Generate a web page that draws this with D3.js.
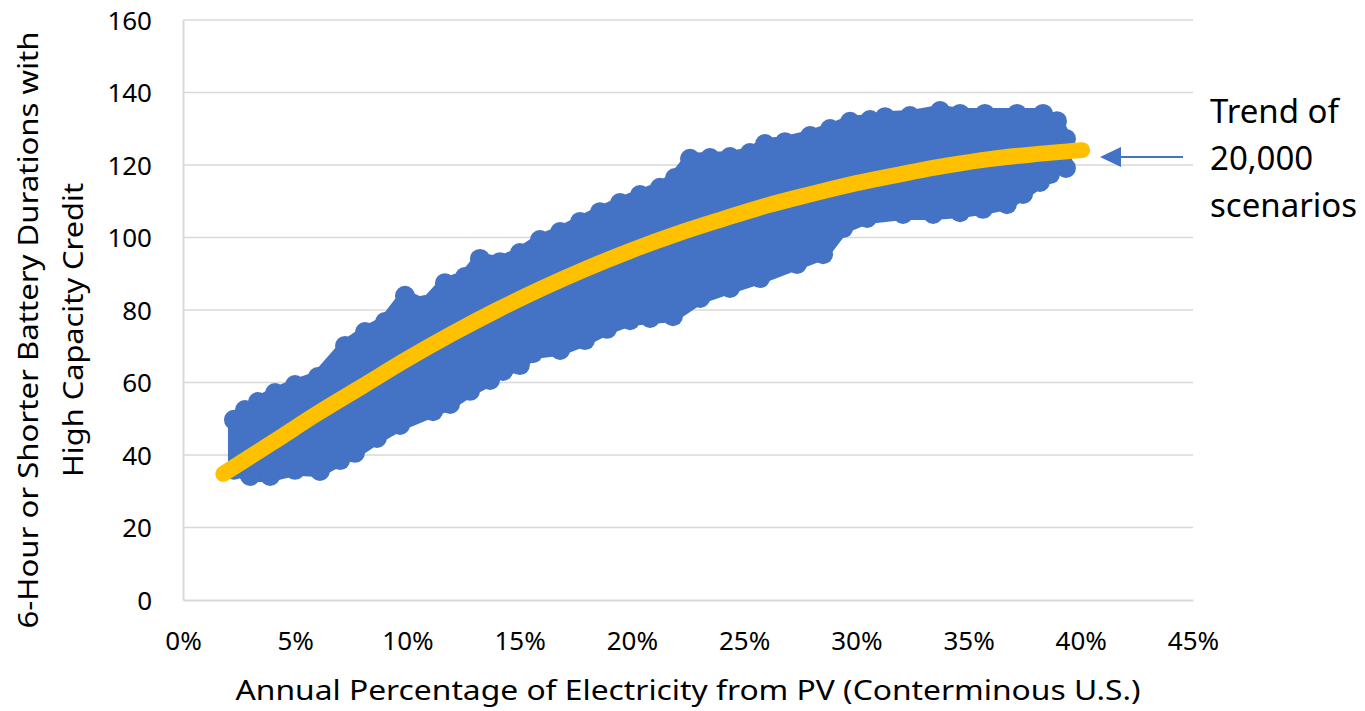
<!DOCTYPE html>
<html><head><meta charset="utf-8">
<script src="https://cdn.jsdelivr.net/npm/d3@7"></script>
<style>body{margin:0;background:#fff}svg{display:block}text{font-family:"Noto Sans",sans-serif;fill:#000}</style>
</head><body>
<svg id="c" width="1365" height="711"></svg>
<script>
// ---- data ----
const xTickLabels = ["0%","5%","10%","15%","20%","25%","30%","35%","40%","45%"];
const xTickValues = [0,5,10,15,20,25,30,35,40,45];
const yTickValues = [0,20,40,60,80,100,120,140,160];

// upper extreme scenarios (percent PV, count)
const upperX = [2.27,2.76,3.34,4.10,4.99,6.01,7.22,8.11,9.00,9.89,10.78,11.67,12.56,13.23,14.12,15.01,15.90,16.80,17.69,18.58,19.47,20.36,21.25,21.92,22.59,23.48,24.37,25.26,25.93,26.82,27.94,28.83,29.72,30.61,31.28,32.39,33.73,34.62,35.73,37.16,38.32,38.94,39.34,39.34];
const upperY = [49.7,52.4,54.6,57.1,59.3,61.5,70.1,73.9,76.7,83.9,81.4,87.4,89.1,94.1,93.2,95.7,99.3,101.5,104.3,107.0,109.5,111.7,113.7,116.4,121.7,121.9,122.2,123.3,125.8,126.3,128.0,129.9,131.9,132.4,133.2,133.5,134.9,134.1,134.1,134.1,134.1,132.1,127.2,119.2];
// lower extreme scenarios
const lowerX = [2.27,2.99,3.88,4.99,6.10,7.00,7.66,8.64,9.67,11.14,11.90,12.79,13.68,14.26,15.01,15.59,16.80,17.91,18.89,19.92,20.81,21.83,23.04,24.37,25.71,27.36,28.52,29.41,30.48,32.08,33.42,34.62,35.64,36.71,37.43,38.18,38.63,39.16];
const lowerY = [35.9,34.2,34.2,35.9,35.6,38.6,40.6,44.7,48.3,52.1,54.1,57.7,60.7,63.2,64.8,68.1,69.0,71.7,74.8,77.2,77.8,78.3,83.3,86.1,88.8,92.7,95.4,102.6,105.4,106.5,106.5,107.0,107.9,109.2,112.0,115.3,117.5,120.3];

// trend of 20,000 scenarios
const trendX = [1.8,4,6,8,10,12,14,16,18,20,22,24,26,28,30,32,34,36,38,40.06];
const trendY = [34.8,43.5,51.5,59,66.5,73.5,80,86,91.5,96.5,101,105,108.8,112,115,117.5,119.8,121.7,123,124.1];

const annotationLines = ["Trend of","20,000","scenarios"];
const xTitle = "Annual Percentage of  Electricity from PV (Conterminous U.S.)";
const yTitle1 = "6-Hour or Shorter Battery Durations with";
const yTitle2 = "High Capacity Credit";

// ---- chart ----
const svg = d3.select("#c");
const x = d3.scaleLinear().domain([0,45]).range([183,1193]);
const y = d3.scaleLinear().domain([0,160]).range([600,20]);
const grid = "#D9D9D9";

// gridlines
svg.append("g").selectAll("line").data(yTickValues.filter(d=>d>0)).join("line")
  .attr("x1",x(0)).attr("x2",x(45)).attr("y1",d=>y(d)).attr("y2",d=>y(d))
  .attr("stroke",grid).attr("stroke-width",1.5);
// axes lines
const xa = svg.append("g").attr("transform",`translate(0,${y(0)})`)
  .call(d3.axisBottom(x).tickValues(xTickValues).tickSize(0).tickFormat((d,i)=>xTickLabels[i]));
xa.select(".domain").attr("stroke",grid).attr("stroke-width",2);
xa.selectAll("text").attr("dy",0).attr("y",50).style("font-size","26px").style("font-family","Noto Sans");
const ya = svg.append("g").attr("transform",`translate(${x(0)},0)`)
  .call(d3.axisLeft(y).tickValues(yTickValues).tickSize(0).tickFormat(d3.format("d")));
ya.select(".domain").attr("stroke",grid).attr("stroke-width",2);
ya.selectAll("text").attr("x",-31).attr("dy","0.36em").style("font-size","26px").style("font-family","Noto Sans");

// scatter band
const up = upperX.map((d,i)=>[d,upperY[i]]);
const lo = lowerX.map((d,i)=>[d,lowerY[i]]);
const poly = up.concat(lo.slice().reverse());
const blue = "#4472C4";
svg.append("path").datum(poly)
  .attr("d", d3.line().x(d=>x(d[0])).y(d=>y(d[1])).curve(d3.curveLinearClosed))
  .attr("fill",blue).attr("stroke",blue).attr("stroke-width",12).attr("stroke-linejoin","round");
svg.append("g").selectAll("circle").data(up.concat(lo)).join("circle")
  .attr("cx",d=>x(d[0])).attr("cy",d=>y(d[1])).attr("r",10).attr("fill",blue);

// trend
const tr = trendX.map((d,i)=>[d,trendY[i]]);
svg.append("path").datum(tr)
  .attr("d", d3.line().x(d=>x(d[0])).y(d=>y(d[1])).curve(d3.curveMonotoneX))
  .attr("fill","none").attr("stroke","#FFC000").attr("stroke-width",16).attr("stroke-linecap","round");

// arrow annotation
svg.append("line").attr("x1",1183).attr("x2",1118).attr("y1",157).attr("y2",157)
  .attr("stroke",blue).attr("stroke-width",2);
svg.append("path").attr("d","M1100,157 L1121,147 L1121,167 Z").attr("fill",blue);
svg.append("g").selectAll("text").data(annotationLines).join("text")
  .attr("x",1210).attr("y",(d,i)=>123+i*47).style("font-size","33px").text(d=>d);

// titles
svg.append("text").attr("x",688).attr("y",700).attr("text-anchor","middle")
  .attr("textLength",905).attr("lengthAdjust","spacingAndGlyphs").style("font-size","27px").text(xTitle);
svg.append("text").attr("transform","translate(38,330) rotate(-90)").attr("text-anchor","middle")
  .attr("textLength",597).attr("lengthAdjust","spacingAndGlyphs").style("font-size","27px").text(yTitle1);
svg.append("text").attr("transform","translate(83,330) rotate(-90)").attr("text-anchor","middle")
  .attr("textLength",294).attr("lengthAdjust","spacingAndGlyphs").style("font-size","27px").text(yTitle2);
</script>
</body></html>
